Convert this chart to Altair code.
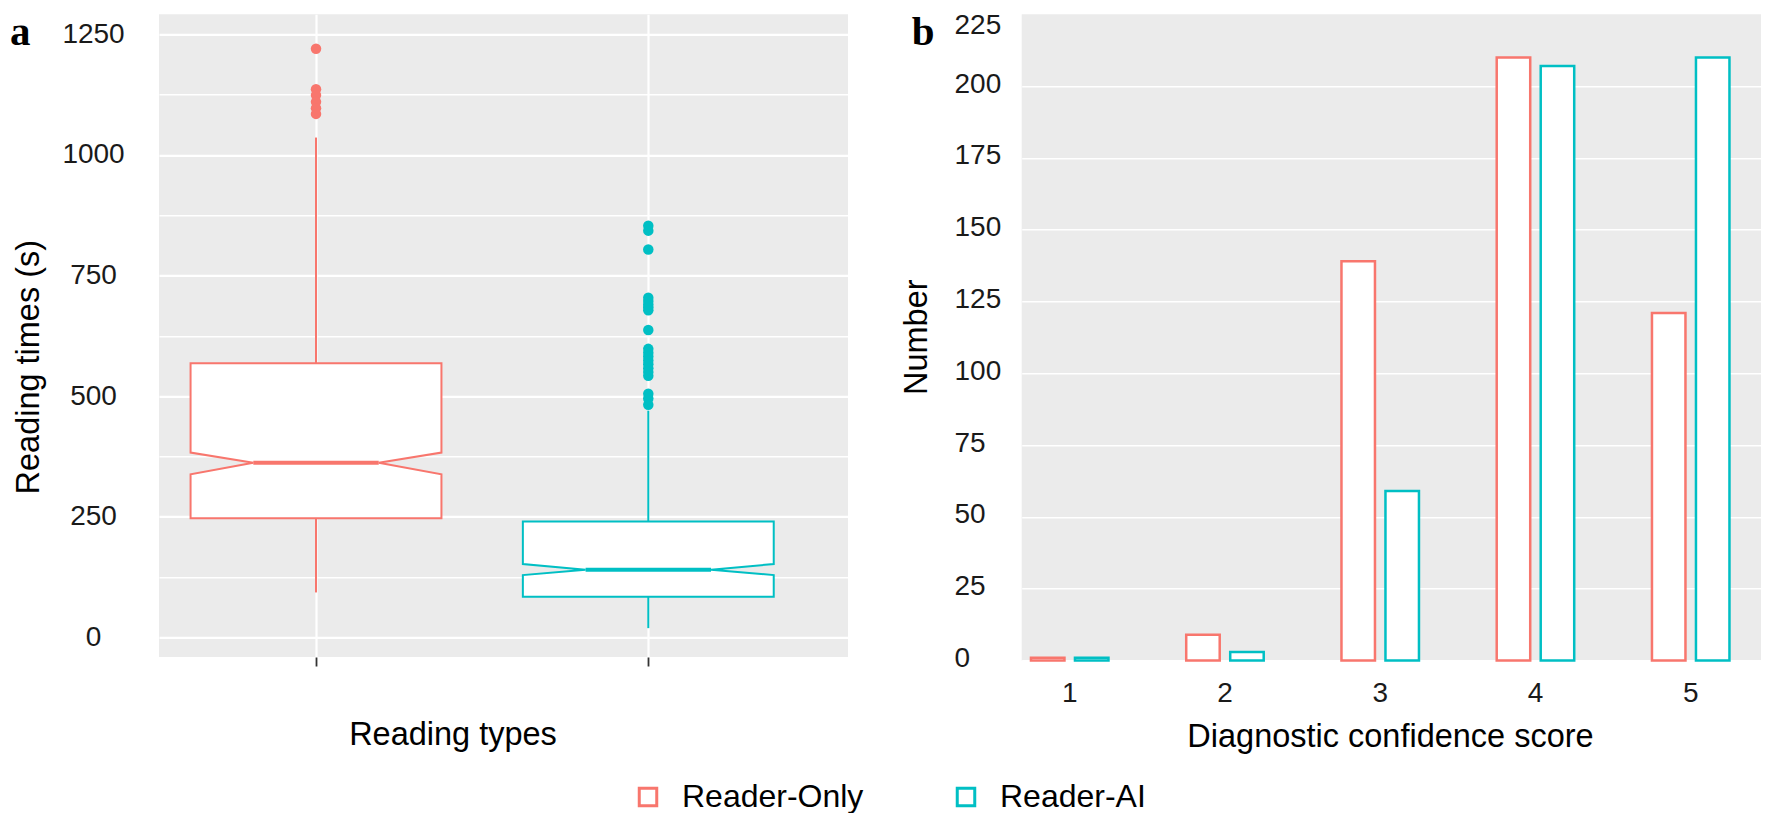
import altair as alt
import pandas as pd

# ---------------- Panel a: reading times (s), notched box plots ----------------
groups = ["Reader-Only", "Reader-AI"]
colors = ["#F8766D", "#00BFC4"]
q1 = [247, 84]
median = [362, 140]
q3 = [568, 240]
notch_lo = [338, 129]
notch_hi = [383, 152]
whisker_lo = [93, 19]
whisker_hi = [1036, 470]
outliers_reader_only = [1220, 1136, 1124, 1110, 1097, 1085]
outliers_reader_ai = [853, 843, 804, 704, 697, 690, 684, 678, 637,
                      598, 590, 582, 574, 566, 558, 550, 542, 505, 495, 482]
y_major = [0, 250, 500, 750, 1000, 1250]
y_minor = [125, 375, 625, 875, 1125]

# ---------------- Panel b: diagnostic confidence score counts ----------------
scores = ["1", "2", "3", "4", "5"]
count_reader_only = [1, 9, 139, 210, 121]
count_reader_ai = [1, 3, 59, 207, 210]
b_ticks = [0, 25, 50, 75, 100, 125, 150, 175, 200, 225]

FONT = "Liberation Sans"
half_w = 0.3775   # half box width (x units)
notch_w = 0.5     # notch width relative to box

rows = []
for i, g in enumerate(groups):
    pos = i + 1
    for yv, f in [(q1[i], 1), (notch_lo[i], 1), (median[i], notch_w), (notch_hi[i], 1), (q3[i], 1)]:
        rows.append({"group": g, "y": yv, "xl": pos - half_w * f, "xr": pos + half_w * f})
box_df = pd.DataFrame(rows)

stats_df = pd.DataFrame({
    "group": groups,
    "pos": [1, 2],
    "q1": q1, "q3": q3, "median": median,
    "wlo": whisker_lo, "whi": whisker_hi,
    "ml": [p - half_w * notch_w for p in (1, 2)],
    "mr": [p + half_w * notch_w for p in (1, 2)],
})
out_df = pd.DataFrame({
    "group": [groups[0]] * len(outliers_reader_only) + [groups[1]] * len(outliers_reader_ai),
    "pos": [1] * len(outliers_reader_only) + [2] * len(outliers_reader_ai),
    "value": outliers_reader_only + outliers_reader_ai,
})

color_scale = alt.Scale(domain=groups, range=colors)
xa_scale = alt.Scale(domain=[0.5275, 2.601], nice=False, zero=False)
ya_scale = alt.Scale(domain=[-40.8, 1291.5], nice=False, zero=False)

ya_axis = alt.Axis(
    values=sorted(y_major + y_minor), format="d",
    labelExpr="datum.value % 250 === 0 ? datum.label : ''",
    grid=True, gridColor="white",
    gridWidth={"condition": {"test": "datum.value % 250 !== 0", "value": 1.4}, "value": 2.2},
    ticks=False, tickSize=0, domain=False,
    labelFontSize=28, labelColor="#1a1a1a", labelAlign="center", labelPadding=66,
    title="Reading times (s)", titleFontSize=32.5, titleFontWeight="normal", titleColor="black",
    titleX=-121, titleY=352.4, titleAlign="center", titleBaseline="alphabetic", titleAngle=270,
)
xa_axis = alt.Axis(
    values=[1, 2], labels=False, ticks=True, tickSize=9, tickColor="#333333", tickWidth=1.8,
    grid=True, gridColor="white", gridWidth=2.2, domain=False,
    title="Reading types", titleFontSize=32.5, titleFontWeight="normal", titleColor="black",
    titleX=293.5, titleY=88, titleAlign="center", titleBaseline="alphabetic",
)

box = alt.Chart(box_df).mark_area(orient="horizontal", fill="white", strokeWidth=2, opacity=1).encode(
    y=alt.Y("y:Q", scale=ya_scale, axis=ya_axis),
    x=alt.X("xl:Q", scale=xa_scale, axis=xa_axis),
    x2="xr:Q",
    stroke=alt.Stroke("group:N", scale=color_scale, legend=None),
)
med = alt.Chart(stats_df).mark_rule(strokeWidth=4).encode(
    x=alt.X("ml:Q", scale=xa_scale, axis=xa_axis), x2="mr:Q",
    y=alt.Y("median:Q", scale=ya_scale, axis=ya_axis),
    stroke=alt.Stroke("group:N", scale=color_scale, legend=None),
)
wh_hi = alt.Chart(stats_df).mark_rule(strokeWidth=2).encode(
    x=alt.X("pos:Q", scale=xa_scale, axis=xa_axis),
    y=alt.Y("q3:Q", scale=ya_scale, axis=ya_axis), y2="whi:Q",
    stroke=alt.Stroke("group:N", scale=color_scale, legend=None),
)
wh_lo = alt.Chart(stats_df).mark_rule(strokeWidth=2).encode(
    x=alt.X("pos:Q", scale=xa_scale, axis=xa_axis),
    y=alt.Y("wlo:Q", scale=ya_scale, axis=ya_axis), y2="q1:Q",
    stroke=alt.Stroke("group:N", scale=color_scale, legend=None),
)
outl = alt.Chart(out_df).mark_circle(size=110, opacity=1).encode(
    x=alt.X("pos:Q", scale=xa_scale, axis=xa_axis),
    y=alt.Y("value:Q", scale=ya_scale, axis=ya_axis),
    color=alt.Color("group:N", scale=color_scale, legend=None),
)
lab_a = alt.Chart(pd.DataFrame({"t": ["a"]})).mark_text(
    font="Liberation Serif", fontWeight="bold", fontSize=41, align="left", baseline="alphabetic", color="black"
).encode(text="t:N", x=alt.value(-149), y=alt.value(30.7))

panel_a = alt.layer(box, med, wh_hi, wh_lo, outl, lab_a).properties(width=689, height=642.7)

# ---------------- Panel b ----------------
bar_df = pd.DataFrame({
    "score": scores * 2,
    "group": [groups[0]] * 5 + [groups[1]] * 5,
    "count": count_reader_only + count_reader_ai,
})

yb_axis = alt.Axis(
    values=b_ticks, format="d", grid=True, gridColor="white",
    gridWidth={"condition": {"test": "datum.value === 225", "value": 0}, "value": 1.4},
    ticks=False, tickSize=0, domain=False,
    labelFontSize=28, labelColor="#1a1a1a", labelAlign="left", labelPadding=67.7,
    labelOffset={"condition": {"test": "datum.value === 225", "value": 11}, "value": -2},
    title="Number", titleFontSize=32.5, titleFontWeight="normal", titleColor="black",
    titleX=-95, titleY=322.4, titleAlign="center", titleBaseline="alphabetic", titleAngle=270,
)
xb_axis = alt.Axis(
    labelAngle=0, labelFontSize=28, labelColor="#1a1a1a", labelPadding=19, labelBaseline="top",
    ticks=False, tickSize=0, domain=False, grid=False,
    title="Diagnostic confidence score", titleFontSize=32.5, titleFontWeight="normal", titleColor="black",
    titleX=368.3, titleY=86.4, titleAlign="center", titleBaseline="alphabetic",
)

bars = alt.Chart(bar_df).mark_bar(fill="white", strokeWidth=2.5, opacity=1).encode(
    x=alt.X("score:N", sort=scores,
            scale=alt.Scale(paddingInner=0.4847, paddingOuter=0.1459, align=0.177), axis=xb_axis),
    xOffset=alt.XOffset("group:N", sort=groups,
                        scale=alt.Scale(domain=groups, paddingInner=0.2386, paddingOuter=0.0284)),
    y=alt.Y("count:Q", scale=alt.Scale(domain=[0, 225], nice=False, zero=True), axis=yb_axis),
    stroke=alt.Stroke("group:N", scale=color_scale, legend=alt.Legend(
        orient="none", legendX=-389.7, legendY=766.7, direction="horizontal", title=None,
        symbolType="square", symbolSize=306, symbolStrokeWidth=3, symbolFillColor="white",
        labelFontSize=32, labelFont=FONT, labelColor="black", labelOffset=18, labelLimit=500,
        columnPadding=86, padding=0,
    )),
)
lab_b = alt.Chart(pd.DataFrame({"t": ["b"]})).mark_text(
    font="Liberation Serif", fontWeight="bold", fontSize=41, align="left", baseline="alphabetic", color="black"
).encode(text="t:N", x=alt.value(-110), y=alt.value(30.7))

panel_b = alt.layer(bars, lab_b).properties(width=746.3, height=646.2)

chart = alt.hconcat(panel_a, panel_b, spacing=173.7, bounds="flush").resolve_scale(
    stroke="independent", color="independent"
).resolve_legend(
    stroke="independent", color="independent"
).properties(
    padding={"left": 2, "top": 3.3, "right": -7, "bottom": 0},
    background="white",
).configure_view(
    fill="#EBEBEB", stroke=None
).configure_axis(
    labelFont=FONT, titleFont=FONT
)

chart.save("out.html", embed_options={"renderer": "svg", "actions": False})
